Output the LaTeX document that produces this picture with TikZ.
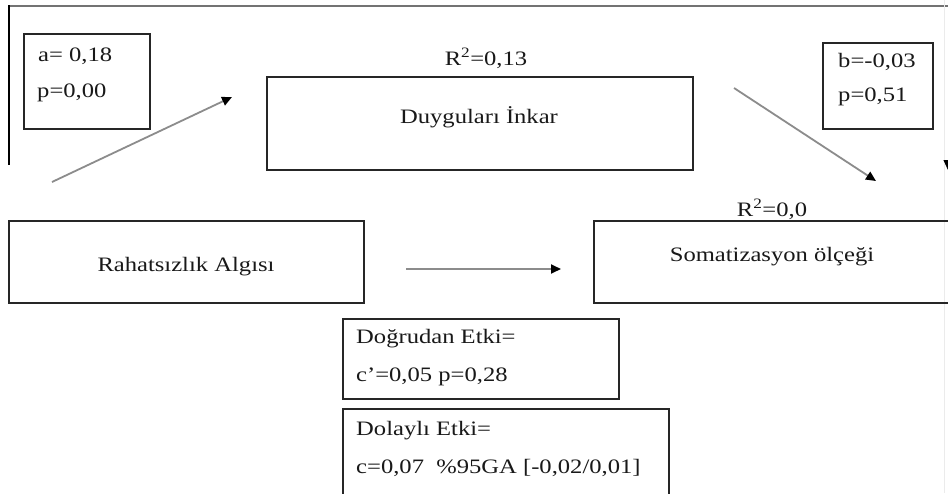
\documentclass[tikz,border=0pt]{standalone}
\usepackage{fontspec}
\setmainfont{Liberation Serif}[FakeStretch=1.2]
\usetikzlibrary{arrows.meta}
\begin{document}
\begin{tikzpicture}[x=1pt,y=-1pt,
  box/.style={draw=black!85, line width=1.8pt, rectangle, inner sep=0pt, anchor=north west},
  lbl/.style={inner sep=0pt, font=\fontsize{20.5}{24}\selectfont, text=black!90},
  conn/.style={draw=black!45, line width=1.8pt,
    -{Triangle[length=10pt,width=9pt,color=black]}},
  frame/.style={line width=2.6pt}
]
\useasboundingbox (0,0) rectangle (948,493);
\fill[white] (0,0) rectangle (948,493);
\clip (0,0) rectangle (948,493);

% outer frame
\coordinate (fTL) at (8,6);
\coordinate (fTR) at (960,6);
\coordinate (fLB) at (9,165);
\coordinate (fRT) at (944,0);
\coordinate (fRB) at (944,493);
\draw[frame, draw=black!55] (fTL) -- (fTR);
\draw[line width=2pt, draw=black] (9,5) -- (fLB);
\draw[line width=0.8pt, draw=black!8] (fRT) -- (fRB);

% variable boxes
\node[box, minimum width=426pt, minimum height=93pt] (med) at (266,76) {};
\node[box, minimum width=355pt, minimum height=82pt] (pred) at (8,220) {};
\node[box, minimum width=380pt, minimum height=82pt] (out) at (593,220) {};

\node[lbl, anchor=base] (medT) at (479,123) {Duyguları İnkar};
\node[lbl, anchor=base] (predT) at (186,271) {Rahatsızlık Algısı};
\node[lbl, anchor=base] (outT) at (772,261) {Somatizasyon ölçeği};
\node[lbl, anchor=base] (medR) at (486,65) {R\textsuperscript{2}=0,13};
\node[lbl, anchor=base] (outR) at (772,216) {R\textsuperscript{2}=0,0};

% coefficient boxes
\node[box, minimum width=126pt, minimum height=95pt] (abox) at (23,33) {};
\node[lbl, anchor=base west] (aT) at (38,61) {a= 0,18};
\node[lbl, anchor=base west] (apT) at (37,97) {p=0,00};

\node[box, minimum width=110pt, minimum height=86pt] (bbox) at (822,42) {};
\node[lbl, anchor=base west] (bT) at (838,67) {b=-0,03};
\node[lbl, anchor=base west] (bpT) at (838,101) {p=0,51};

\node[box, minimum width=276pt, minimum height=80pt] (dbox) at (342,318) {};
\node[lbl, anchor=base west] (dT) at (356,343) {Doğrudan Etki=};
\node[lbl, anchor=base west] (dvT) at (356,381) {c'=0,05 p=0,28};

\node[box, minimum width=326pt, minimum height=100pt] (ibox) at (342,408) {};
\node[lbl, anchor=base west] (iT) at (356,435) {Dolaylı Etki=};
\node[lbl, anchor=base west] (ivT) at (356,473) {c=0,07\ \ \%95GA [-0,02/0,01]};

% paths
\coordinate (p1s) at (52,182);
\coordinate (p1e) at (232,97);
\coordinate (p2s) at (734,88);
\coordinate (p2e) at (876,181);
\coordinate (p3s) at (406,269);
\coordinate (p3e) at (561,269);
\coordinate (p4s) at (948,150);
\coordinate (p4e) at (948,170);
\draw[conn] (p1s) -- (p1e);
\draw[conn] (p2s) -- (p2e);
\draw[conn] (p3s) -- (p3e);
\draw[conn, draw=black!8, line width=0.8pt] (p4s) -- (p4e);
\end{tikzpicture}
\end{document}
